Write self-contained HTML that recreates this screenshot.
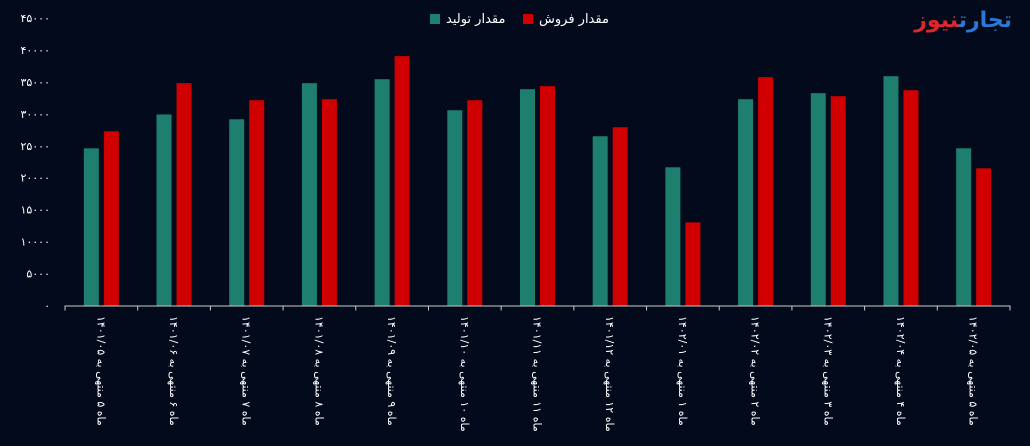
<!DOCTYPE html>
<html><head><meta charset="utf-8"><style>
body{margin:0;background:#020a1c;overflow:hidden;}
svg text{font-family:"DejaVu Sans","Liberation Sans",sans-serif;}
.lg{position:absolute;top:12px;color:#fff;font:13px "DejaVu Sans",sans-serif;white-space:nowrap;}
.sw{display:inline-block;width:10px;height:10px;margin-right:6px;vertical-align:-1px;}
#logo{position:absolute;top:8px;right:18px;direction:rtl;font:bold 22px "DejaVu Sans",sans-serif;white-space:nowrap;}
</style></head><body>
<svg id="chart" width="1030" height="446" xmlns="http://www.w3.org/2000/svg" style="position:absolute;left:0;top:0">
<rect width="1030" height="446" fill="#020a1c"/>
<g id="yaxis"></g>
<g id="bars"></g>
<g id="xaxis"></g>
</svg>
<div class="lg" style="left:430px"><span class="sw" style="background:#1e7f6e"></span><span dir="rtl">مقدار تولید</span></div>
<div class="lg" style="left:523px"><span class="sw" style="background:#d10000"></span><span dir="rtl">مقدار فروش</span></div>
<div id="logo"><span style="color:#2a78d8">تجارت</span><span style="color:#e0262b">نیوز</span></div>
<script>
const categories=["ماه ۵ منتهی به ۱۴۰۱/۰۵","ماه ۶ منتهی به ۱۴۰۱/۰۶","ماه ۷ منتهی به ۱۴۰۱/۰۷","ماه ۸ منتهی به ۱۴۰۱/۰۸","ماه ۹ منتهی به ۱۴۰۱/۰۹","ماه ۱۰ منتهی به ۱۴۰۱/۱۰","ماه ۱۱ منتهی به ۱۴۰۱/۱۱","ماه ۱۲ منتهی به ۱۴۰۱/۱۲","ماه ۱ منتهی به ۱۴۰۲/۰۱","ماه ۲ منتهی به ۱۴۰۲/۰۲","ماه ۳ منتهی به ۱۴۰۲/۰۳","ماه ۴ منتهی به ۱۴۰۲/۰۴","ماه ۵ منتهی به ۱۴۰۲/۰۵"];
const production=[24600,29900,29150,34800,35420,30560,33860,26490,21630,32290,33230,35890,24610];
const sales=[27270,34800,32130,32290,39030,32130,34330,27900,13010,35740,32760,33700,21470];
const yTicks=[0,5000,10000,15000,20000,25000,30000,35000,40000,45000];
const yTickLabels=["۰","۵۰۰۰","۱۰۰۰۰","۱۵۰۰۰","۲۰۰۰۰","۲۵۰۰۰","۳۰۰۰۰","۳۵۰۰۰","۴۰۰۰۰","۴۵۰۰۰"];

const NS="http://www.w3.org/2000/svg";
const X0=65,X1=1010,Y0=305.5,Ytop=18,YMAX=45000;
const bw=(X1-X0)/categories.length;
const y=v=>Y0-(v/YMAX)*(Y0-Ytop);
const xc=i=>X0+bw*(i+0.5);
function mk(t,a,p){const e=document.createElementNS(NS,t);for(const k in a)e.setAttribute(k,a[k]);p.appendChild(e);return e;}
const ya=document.getElementById('yaxis'),bars=document.getElementById('bars'),xa=document.getElementById('xaxis');
yTicks.forEach((v,i)=>{const t=mk('text',{x:50,y:y(v)+4,'font-size':11,fill:'#fff','text-anchor':'end'},ya);t.textContent=yTickLabels[i];

});
categories.forEach((c,i)=>{
 const g=mk('rect',{x:xc(i)-17.5,y:y(production[i]),width:15,height:Y0-y(production[i]),fill:'#1e7f6e'},bars);
 
 
 const r=mk('rect',{x:xc(i)+2.5,y:y(sales[i]),width:15,height:Y0-y(sales[i]),fill:'#d10000'},bars);
 
 
 const t=mk('text',{x:0,y:0,'font-size':11,fill:'#fff','text-anchor':'end',direction:'rtl',transform:`translate(${xc(i)-4},316) rotate(90)`},xa);
 t.textContent=c;
 
 
});
const ax=mk('line',{x1:X0,y1:Y0+0.5,x2:X1,y2:Y0+0.5,stroke:'#ccc','stroke-width':1},xa);


for(let i=0;i<=categories.length;i++){const tk=mk('line',{x1:X0+bw*i,y1:Y0,x2:X0+bw*i,y2:Y0+5,stroke:'#ccc'},xa);

}
</script>
</body></html>
